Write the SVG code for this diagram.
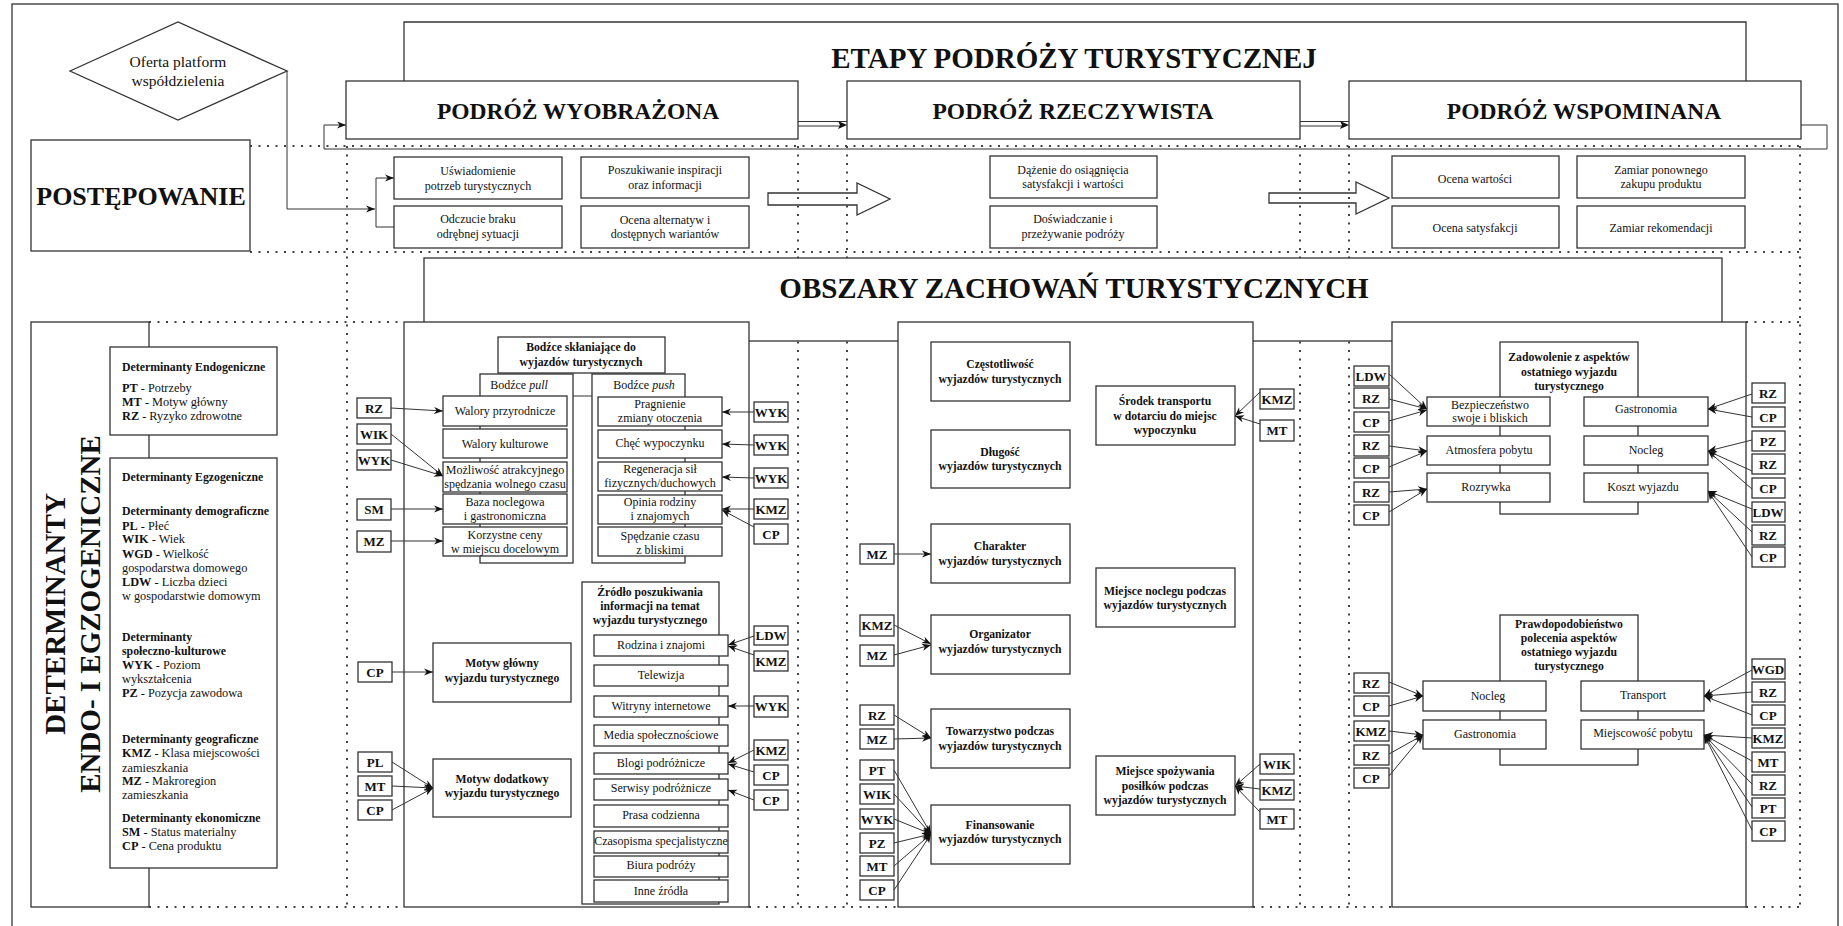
<svg xmlns="http://www.w3.org/2000/svg" width="1843" height="926" viewBox="0 0 1843 926">
<style>
.b{fill:#fff;stroke:#333;stroke-width:1.3}
.t{font-family:"Liberation Serif","Times New Roman",serif;font-size:12px;fill:#111;text-anchor:middle}
.tb{font-family:"Liberation Serif","Times New Roman",serif;font-size:11.7px;font-weight:bold;fill:#111;text-anchor:middle}
.c{font-family:"Liberation Serif","Times New Roman",serif;font-size:13px;font-weight:bold;fill:#111;text-anchor:middle}
.d{font-family:"Liberation Serif","Times New Roman",serif;font-size:12.3px;fill:#111}
.dh{font-weight:bold;font-size:11.8px}
.h{font-family:"Liberation Serif","Times New Roman",serif;font-weight:bold;fill:#111;text-anchor:middle}
.dot{stroke:#444;stroke-width:2;stroke-dasharray:2 6.5;fill:none}
.ln{stroke:#333;stroke-width:1;fill:none}
.ar{stroke:#333;stroke-width:1;fill:none;marker-end:url(#ah)}
</style>
<defs>
<marker id="ah" viewBox="0 0 10 10" refX="10" refY="5" markerWidth="9" markerHeight="9" markerUnits="userSpaceOnUse" orient="auto"><path d="M0,1 L10,5 L0,9 L3,5 Z" fill="#111"/></marker>
</defs>
<rect x="0" y="0" width="1843" height="926" fill="#fff"/>
<rect x="12" y="4" width="1826" height="940" fill="none" stroke="#333" stroke-width="1.3"/>

<!-- hollow arrows -->
<g id="hollow-arrows">
<path d="M768,193 H857 V183 L890,199 L857,215 V205 H768 Z" class="b"/>
<path d="M1269,193 H1356 V182 L1389,198 L1356,214 V203 H1269 Z" class="b"/>
</g>

<!-- dotted guide lines -->
<g id="guides">
<path class="dot" d="M250,146 H1800 M250,252 H1800 M1800,146 V907 M347,146 V907 M798,146 V907 M847,146 V907 M1300,146 V907 M1349,146 V907 M149,322 H404 M149,907 H404 M749,907 H898 M1253,907 H1392 M1746,907 H1800 M1746,322 H1800"/>
</g>

<!-- ETAPY header -->
<g id="etapy">
<path d="M404,81 V22 H1746 V81" class="b"/>
<text x="1074" y="68" class="h" font-size="29">ETAPY PODRÓŻY TURYSTYCZNEJ</text>
</g>
<g id="podroz-wyobrazona"><rect x="346" y="81" width="452" height="58" class="b"/><text x="578" y="119" class="h" font-size="23.5">PODRÓŻ WYOBRAŻONA</text></g>
<g id="podroz-rzeczywista"><rect x="847" y="81" width="453" height="58" class="b"/><text x="1073" y="119" class="h" font-size="23.5">PODRÓŻ RZECZYWISTA</text></g>
<g id="podroz-wspominana"><rect x="1349" y="81" width="452" height="58" class="b"/><text x="1584" y="119" class="h" font-size="23.5">PODRÓŻ WSPOMINANA</text></g>

<g id="postepowanie"><rect x="31" y="140" width="219" height="111" class="b"/><text x="141" y="205" class="h" font-size="26">POSTĘPOWANIE</text></g>

<g id="oferta"><polygon points="70,71 178,22 287,71 178,120" class="b"/>
<text x="178" y="67" class="t" style="font-size:15.5px">Oferta platform</text><text x="178" y="86" class="t" style="font-size:15.5px">współdzielenia</text></g>

<!-- stage boxes -->
<g id="uswiadomienie"><rect x="394" y="157" width="168" height="42" class="b"/><text x="478" y="175" class="t">Uświadomienie</text><text x="478" y="190" class="t">potrzeb turystycznych</text></g>
<g id="odczucie"><rect x="394" y="206" width="168" height="42" class="b"/><text x="478" y="223" class="t">Odczucie braku</text><text x="478" y="238" class="t">odrębnej sytuacji</text></g>
<g id="poszukiwanie"><rect x="581" y="157" width="168" height="41" class="b"/><text x="665" y="174" class="t">Poszukiwanie inspiracji</text><text x="665" y="189" class="t">oraz informacji</text></g>
<g id="ocena-alt"><rect x="581" y="206" width="168" height="42" class="b"/><text x="665" y="224" class="t">Ocena alternatyw i</text><text x="665" y="238" class="t">dostępnych wariantów</text></g>
<g id="dazenie"><rect x="990" y="156" width="167" height="42" class="b"/><text x="1073" y="174" class="t">Dążenie do osiągnięcia</text><text x="1073" y="188" class="t">satysfakcji i wartości</text></g>
<g id="doswiadczanie"><rect x="990" y="206" width="167" height="42" class="b"/><text x="1073" y="223" class="t">Doświadczanie i</text><text x="1073" y="238" class="t">przeżywanie podróży</text></g>
<g id="ocena-wartosci"><rect x="1392" y="156" width="167" height="42" class="b"/><text x="1475" y="183" class="t">Ocena wartości</text></g>
<g id="ocena-satysfakcji"><rect x="1392" y="206" width="167" height="42" class="b"/><text x="1475" y="232" class="t">Ocena satysfakcji</text></g>
<g id="zamiar-ponownego"><rect x="1577" y="156" width="168" height="42" class="b"/><text x="1661" y="174" class="t">Zamiar ponownego</text><text x="1661" y="188" class="t">zakupu produktu</text></g>
<g id="zamiar-rekomendacji"><rect x="1577" y="206" width="168" height="42" class="b"/><text x="1661" y="232" class="t">Zamiar rekomendacji</text></g>

<!-- OBSZARY -->
<g id="obszary"><rect x="424" y="258" width="1298" height="83" class="b"/><text x="1074" y="298" class="h" font-size="29">OBSZARY ZACHOWAŃ TURYSTYCZNYCH</text></g>

<!-- DETERMINANTY -->
<g id="determinanty"><rect x="31" y="322" width="118" height="585" class="b"/>
<text transform="translate(65,614) rotate(-90)" class="h" font-size="29">DETERMINANTY</text>
<text transform="translate(100,614) rotate(-90)" class="h" font-size="29">ENDO- I EGZOGENICZNE</text></g>
<g id="endo"><rect x="110" y="347" width="167" height="88" class="b"/>
<text x="122" y="371" class="d dh">Determinanty Endogeniczne</text>
<text x="122" y="392" class="d"><tspan font-weight="bold">PT</tspan> - Potrzeby</text>
<text x="122" y="406" class="d"><tspan font-weight="bold">MT</tspan> - Motyw główny</text>
<text x="122" y="420" class="d"><tspan font-weight="bold">RZ</tspan> - Ryzyko zdrowotne</text></g>
<g id="egzo"><rect x="110" y="458" width="167" height="410" class="b"/>
<text x="122" y="481" class="d dh">Determinanty Egzogeniczne</text>
<text x="122" y="515" class="d dh">Determinanty demograficzne</text>
<text x="122" y="530" class="d"><tspan font-weight="bold">PL</tspan> - Płeć</text>
<text x="122" y="543" class="d"><tspan font-weight="bold">WIK</tspan> - Wiek</text>
<text x="122" y="558" class="d"><tspan font-weight="bold">WGD</tspan> - Wielkość</text>
<text x="122" y="572" class="d">gospodarstwa domowego</text>
<text x="122" y="586" class="d"><tspan font-weight="bold">LDW</tspan> - Liczba dzieci</text>
<text x="122" y="600" class="d">w gospodarstwie domowym</text>
<text x="122" y="641" class="d dh">Determinanty</text>
<text x="122" y="655" class="d dh">społeczno-kulturowe</text>
<text x="122" y="669" class="d"><tspan font-weight="bold">WYK</tspan> - Poziom</text>
<text x="122" y="683" class="d">wykształcenia</text>
<text x="122" y="697" class="d"><tspan font-weight="bold">PZ</tspan> - Pozycja zawodowa</text>
<text x="122" y="743" class="d dh">Determinanty geograficzne</text>
<text x="122" y="757" class="d"><tspan font-weight="bold">KMZ</tspan> - Klasa miejscowości</text>
<text x="122" y="772" class="d">zamieszkania</text>
<text x="122" y="785" class="d"><tspan font-weight="bold">MZ</tspan> - Makroregion</text>
<text x="122" y="799" class="d">zamieszkania</text>
<text x="122" y="822" class="d dh">Determinanty ekonomiczne</text>
<text x="122" y="836" class="d"><tspan font-weight="bold">SM</tspan> - Status materialny</text>
<text x="122" y="850" class="d"><tspan font-weight="bold">CP</tspan> - Cena produktu</text></g>

<!-- REGION 1 -->
<g id="region1"><rect x="404" y="322" width="345" height="585" class="b"/></g>
<g id="bodzce"><rect x="498" y="337" width="167" height="36" class="b"/><text x="581" y="351" class="tb">Bodźce skłaniające do</text><text x="581" y="366" class="tb">wyjazdów turystycznych</text></g>
<path class="ln" d="M573,396 H592"/>
<g id="pull"><rect x="480" y="374" width="93" height="189" class="b"/><text x="519" y="389" class="t">Bodźce <tspan font-style="italic">pull</tspan></text></g>
<g id="push"><rect x="592" y="374" width="93" height="189" class="b"/><text x="644" y="389" class="t">Bodźce <tspan font-style="italic">push</tspan></text></g>
<g id="walory-przyr"><rect x="443" y="396" width="124" height="30" class="b"/><text x="505" y="415" class="t">Walory przyrodnicze</text></g>
<g id="walory-kult"><rect x="443" y="429" width="124" height="29" class="b"/><text x="505" y="448" class="t">Walory kulturowe</text></g>
<g id="mozliwosc"><rect x="443" y="462" width="124" height="30" class="b"/><text x="505" y="474" class="t">Możliwość atrakcyjnego</text><text x="505" y="488" class="t">spędzania wolnego czasu</text></g>
<g id="baza"><rect x="443" y="494" width="124" height="30" class="b"/><text x="505" y="506" class="t">Baza noclegowa</text><text x="505" y="520" class="t">i gastronomiczna</text></g>
<g id="korzystne"><rect x="443" y="527" width="124" height="29" class="b"/><text x="505" y="539" class="t">Korzystne ceny</text><text x="505" y="553" class="t">w miejscu docelowym</text></g>
<g id="pragnienie"><rect x="598" y="397" width="124" height="29" class="b"/><text x="660" y="408" class="t">Pragnienie</text><text x="660" y="422" class="t">zmiany otoczenia</text></g>
<g id="chec"><rect x="598" y="430" width="124" height="28" class="b"/><text x="660" y="447" class="t">Chęć wypoczynku</text></g>
<g id="regeneracja"><rect x="598" y="462" width="124" height="29" class="b"/><text x="660" y="473" class="t">Regeneracja sił</text><text x="660" y="487" class="t">fizycznych/duchowych</text></g>
<g id="opinia"><rect x="598" y="495" width="124" height="29" class="b"/><text x="660" y="506" class="t">Opinia rodziny</text><text x="660" y="520" class="t">i znajomych</text></g>
<g id="spedzanie"><rect x="598" y="527" width="124" height="29" class="b"/><text x="660" y="540" class="t">Spędzanie czasu</text><text x="660" y="554" class="t">z bliskimi</text></g>

<g id="zrodlo"><rect x="582" y="582" width="137" height="322" class="b"/><text x="650" y="596" class="tb">Źródło poszukiwania</text><text x="650" y="610" class="tb">informacji na temat</text><text x="650" y="624" class="tb">wyjazdu turystycznego</text></g>
<g id="rodzina"><rect x="594" y="635" width="134" height="21" class="b"/><text x="661" y="649" class="t">Rodzina i znajomi</text></g>
<g id="telewizja"><rect x="594" y="665" width="134" height="21" class="b"/><text x="661" y="679" class="t">Telewizja</text></g>
<g id="witryny"><rect x="594" y="696" width="134" height="21" class="b"/><text x="661" y="710" class="t">Witryny internetowe</text></g>
<g id="media"><rect x="594" y="725" width="134" height="21" class="b"/><text x="661" y="739" class="t">Media społecznościowe</text></g>
<g id="blogi"><rect x="594" y="753" width="134" height="21" class="b"/><text x="661" y="767" class="t">Blogi podróżnicze</text></g>
<g id="serwisy"><rect x="594" y="779" width="134" height="21" class="b"/><text x="661" y="792" class="t">Serwisy podróżnicze</text></g>
<g id="prasa"><rect x="594" y="805" width="134" height="22" class="b"/><text x="661" y="819" class="t">Prasa codzienna</text></g>
<g id="czasopisma"><rect x="594" y="831" width="134" height="22" class="b"/><text x="661" y="845" class="t">Czasopisma specjalistyczne</text></g>
<g id="biura"><rect x="594" y="856" width="134" height="21" class="b"/><text x="661" y="869" class="t">Biura podróży</text></g>
<g id="inne"><rect x="594" y="880" width="134" height="22" class="b"/><text x="661" y="895" class="t">Inne źródła</text></g>

<g id="motyw-glowny"><rect x="433" y="643" width="138" height="59" class="b"/><text x="502" y="667" class="tb">Motyw główny</text><text x="502" y="682" class="tb">wyjazdu turystycznego</text></g>
<g id="motyw-dodatkowy"><rect x="433" y="759" width="138" height="58" class="b"/><text x="502" y="783" class="tb">Motyw dodatkowy</text><text x="502" y="797" class="tb">wyjazdu turystycznego</text></g>

<!-- REGION 2 -->
<g id="region2"><rect x="898" y="322" width="355" height="585" class="b"/></g>
<g id="czestotliwosc"><rect x="931" y="342" width="139" height="59" class="b"/><text x="1000" y="368" class="tb">Częstotliwość</text><text x="1000" y="383" class="tb">wyjazdów turystycznych</text></g>
<g id="dlugosc"><rect x="931" y="430" width="139" height="58" class="b"/><text x="1000" y="456" class="tb">Długość</text><text x="1000" y="470" class="tb">wyjazdów turystycznych</text></g>
<g id="charakter"><rect x="931" y="524" width="139" height="59" class="b"/><text x="1000" y="550" class="tb">Charakter</text><text x="1000" y="565" class="tb">wyjazdów turystycznych</text></g>
<g id="organizator"><rect x="931" y="615" width="139" height="59" class="b"/><text x="1000" y="638" class="tb">Organizator</text><text x="1000" y="653" class="tb">wyjazdów turystycznych</text></g>
<g id="towarzystwo"><rect x="931" y="709" width="139" height="59" class="b"/><text x="1000" y="735" class="tb">Towarzystwo podczas</text><text x="1000" y="750" class="tb">wyjazdów turystycznych</text></g>
<g id="finansowanie"><rect x="931" y="805" width="139" height="59" class="b"/><text x="1000" y="829" class="tb">Finansowanie</text><text x="1000" y="843" class="tb">wyjazdów turystycznych</text></g>
<g id="srodek"><rect x="1096" y="386" width="139" height="59" class="b"/><text x="1165" y="405" class="tb">Środek transportu</text><text x="1165" y="420" class="tb">w dotarciu do miejsc</text><text x="1165" y="434" class="tb">wypoczynku</text></g>
<g id="nocleg-miejsce"><rect x="1096" y="568" width="139" height="59" class="b"/><text x="1165" y="595" class="tb">Miejsce noclegu podczas</text><text x="1165" y="609" class="tb">wyjazdów turystycznych</text></g>
<g id="posilki"><rect x="1096" y="756" width="139" height="59" class="b"/><text x="1165" y="775" class="tb">Miejsce spożywania</text><text x="1165" y="790" class="tb">posiłków podczas</text><text x="1165" y="804" class="tb">wyjazdów turystycznych</text></g>

<!-- REGION 3 -->
<g id="region3"><rect x="1392" y="322" width="354" height="585" class="b"/></g>
<g id="zadowolenie"><rect x="1500" y="342" width="138" height="172" class="b"/><text x="1569" y="361" class="tb">Zadowolenie z aspektów</text><text x="1569" y="376" class="tb">ostatniego wyjazdu</text><text x="1569" y="390" class="tb">turystycznego</text></g>
<g id="bezpieczenstwo"><rect x="1427" y="397" width="123" height="29" class="b"/><text x="1490" y="409" class="t">Bezpieczeństwo</text><text x="1490" y="422" class="t">swoje i bliskich</text></g>
<g id="atmosfera"><rect x="1427" y="436" width="123" height="29" class="b"/><text x="1489" y="454" class="t">Atmosfera pobytu</text></g>
<g id="rozrywka"><rect x="1427" y="473" width="123" height="29" class="b"/><text x="1486" y="491" class="t">Rozrywka</text></g>
<g id="gastronomia1"><rect x="1584" y="397" width="124" height="29" class="b"/><text x="1646" y="413" class="t">Gastronomia</text></g>
<g id="nocleg1"><rect x="1584" y="436" width="124" height="29" class="b"/><text x="1646" y="454" class="t">Nocleg</text></g>
<g id="koszt"><rect x="1584" y="473" width="124" height="29" class="b"/><text x="1643" y="491" class="t">Koszt wyjazdu</text></g>

<g id="prawdopodobienstwo"><rect x="1500" y="615" width="138" height="150" class="b"/><text x="1569" y="628" class="tb">Prawdopodobieństwo</text><text x="1569" y="642" class="tb">polecenia aspektów</text><text x="1569" y="656" class="tb">ostatniego wyjazdu</text><text x="1569" y="670" class="tb">turystycznego</text></g>
<g id="nocleg2"><rect x="1423" y="681" width="123" height="30" class="b"/><text x="1488" y="700" class="t">Nocleg</text></g>
<g id="gastronomia2"><rect x="1423" y="720" width="123" height="29" class="b"/><text x="1485" y="738" class="t">Gastronomia</text></g>
<g id="transport"><rect x="1581" y="681" width="123" height="30" class="b"/><text x="1643" y="699" class="t">Transport</text></g>
<g id="miejscowosc"><rect x="1581" y="720" width="123" height="29" class="b"/><text x="1643" y="737" class="t">Miejscowość pobytu</text></g>

<!-- code boxes -->
<g id="codes-r1-left">
<g id="c-rz1"><rect x="357" y="398" width="34" height="20" class="b"/><text x="374" y="413" class="c">RZ</text></g>
<g id="c-wik1"><rect x="357" y="424" width="34" height="20" class="b"/><text x="374" y="439" class="c">WIK</text></g>
<g id="c-wyk1"><rect x="357" y="450" width="34" height="20" class="b"/><text x="374" y="465" class="c">WYK</text></g>
<g id="c-sm1"><rect x="357" y="499" width="34" height="21" class="b"/><text x="374" y="514" class="c">SM</text></g>
<g id="c-mz1"><rect x="357" y="531" width="34" height="21" class="b"/><text x="374" y="546" class="c">MZ</text></g>
<g id="c-cp1"><rect x="358" y="662" width="34" height="20" class="b"/><text x="375" y="677" class="c">CP</text></g>
<g id="c-pl1"><rect x="358" y="752" width="34" height="20" class="b"/><text x="375" y="767" class="c">PL</text></g>
<g id="c-mt1"><rect x="358" y="776" width="34" height="20" class="b"/><text x="375" y="791" class="c">MT</text></g>
<g id="c-cp2"><rect x="358" y="800" width="34" height="20" class="b"/><text x="375" y="815" class="c">CP</text></g>
</g>
<g id="codes-r1-right">
<g id="c-wyk2"><rect x="754" y="402" width="34" height="20" class="b"/><text x="771" y="417" class="c">WYK</text></g>
<g id="c-wyk3"><rect x="754" y="435" width="34" height="20" class="b"/><text x="771" y="450" class="c">WYK</text></g>
<g id="c-wyk4"><rect x="754" y="468" width="34" height="20" class="b"/><text x="771" y="483" class="c">WYK</text></g>
<g id="c-kmz1"><rect x="754" y="499" width="34" height="20" class="b"/><text x="771" y="514" class="c">KMZ</text></g>
<g id="c-cp3"><rect x="754" y="524" width="34" height="20" class="b"/><text x="771" y="539" class="c">CP</text></g>
<g id="c-ldw1"><rect x="754" y="626" width="34" height="19" class="b"/><text x="771" y="640" class="c">LDW</text></g>
<g id="c-kmz2"><rect x="754" y="651" width="34" height="20" class="b"/><text x="771" y="666" class="c">KMZ</text></g>
<g id="c-wyk5"><rect x="754" y="696" width="34" height="21" class="b"/><text x="771" y="711" class="c">WYK</text></g>
<g id="c-kmz3"><rect x="754" y="740" width="34" height="20" class="b"/><text x="771" y="755" class="c">KMZ</text></g>
<g id="c-cp4"><rect x="754" y="765" width="34" height="20" class="b"/><text x="771" y="780" class="c">CP</text></g>
<g id="c-cp5"><rect x="754" y="790" width="34" height="20" class="b"/><text x="771" y="805" class="c">CP</text></g>
</g>
<g id="codes-r2-left">
<g id="c-mz2"><rect x="860" y="544" width="34" height="20" class="b"/><text x="877" y="559" class="c">MZ</text></g>
<g id="c-kmz4"><rect x="860" y="615" width="34" height="21" class="b"/><text x="877" y="630" class="c">KMZ</text></g>
<g id="c-mz3"><rect x="860" y="645" width="34" height="21" class="b"/><text x="877" y="660" class="c">MZ</text></g>
<g id="c-rz2"><rect x="860" y="705" width="34" height="20" class="b"/><text x="877" y="720" class="c">RZ</text></g>
<g id="c-mz4"><rect x="860" y="729" width="34" height="20" class="b"/><text x="877" y="744" class="c">MZ</text></g>
<g id="c-pt1"><rect x="860" y="760" width="34" height="20" class="b"/><text x="877" y="775" class="c">PT</text></g>
<g id="c-wik2"><rect x="860" y="784" width="34" height="20" class="b"/><text x="877" y="799" class="c">WIK</text></g>
<g id="c-wyk6"><rect x="860" y="809" width="34" height="20" class="b"/><text x="877" y="824" class="c">WYK</text></g>
<g id="c-pz1"><rect x="860" y="833" width="34" height="20" class="b"/><text x="877" y="848" class="c">PZ</text></g>
<g id="c-mt2"><rect x="860" y="856" width="34" height="20" class="b"/><text x="877" y="871" class="c">MT</text></g>
<g id="c-cp6"><rect x="860" y="880" width="34" height="20" class="b"/><text x="877" y="895" class="c">CP</text></g>
</g>
<g id="codes-r2-right">
<g id="c-kmz5"><rect x="1260" y="389" width="34" height="20" class="b"/><text x="1277" y="404" class="c">KMZ</text></g>
<g id="c-mt3"><rect x="1260" y="420" width="34" height="21" class="b"/><text x="1277" y="435" class="c">MT</text></g>
<g id="c-wik3"><rect x="1260" y="754" width="34" height="20" class="b"/><text x="1277" y="769" class="c">WIK</text></g>
<g id="c-kmz6"><rect x="1260" y="780" width="34" height="20" class="b"/><text x="1277" y="795" class="c">KMZ</text></g>
<g id="c-mt4"><rect x="1260" y="809" width="34" height="20" class="b"/><text x="1277" y="824" class="c">MT</text></g>
</g>
<g id="codes-r3-left">
<g id="c-ldw2"><rect x="1354" y="366" width="35" height="20" class="b"/><text x="1371" y="381" class="c">LDW</text></g>
<g id="c-rz3"><rect x="1354" y="388" width="35" height="20" class="b"/><text x="1371" y="403" class="c">RZ</text></g>
<g id="c-cp7"><rect x="1354" y="412" width="35" height="20" class="b"/><text x="1371" y="427" class="c">CP</text></g>
<g id="c-rz4"><rect x="1354" y="435" width="35" height="21" class="b"/><text x="1371" y="450" class="c">RZ</text></g>
<g id="c-cp8"><rect x="1354" y="458" width="35" height="20" class="b"/><text x="1371" y="473" class="c">CP</text></g>
<g id="c-rz5"><rect x="1354" y="482" width="35" height="20" class="b"/><text x="1371" y="497" class="c">RZ</text></g>
<g id="c-cp9"><rect x="1354" y="505" width="35" height="20" class="b"/><text x="1371" y="520" class="c">CP</text></g>
<g id="c-rz6"><rect x="1354" y="673" width="35" height="20" class="b"/><text x="1371" y="688" class="c">RZ</text></g>
<g id="c-cp10"><rect x="1354" y="696" width="35" height="20" class="b"/><text x="1371" y="711" class="c">CP</text></g>
<g id="c-kmz7"><rect x="1354" y="721" width="35" height="20" class="b"/><text x="1371" y="736" class="c">KMZ</text></g>
<g id="c-rz7"><rect x="1354" y="745" width="35" height="20" class="b"/><text x="1371" y="760" class="c">RZ</text></g>
<g id="c-cp11"><rect x="1354" y="768" width="35" height="20" class="b"/><text x="1371" y="783" class="c">CP</text></g>
</g>
<g id="codes-r3-right">
<g id="c-rz8"><rect x="1752" y="383" width="33" height="20" class="b"/><text x="1768" y="398" class="c">RZ</text></g>
<g id="c-cp12"><rect x="1752" y="407" width="33" height="20" class="b"/><text x="1768" y="422" class="c">CP</text></g>
<g id="c-pz2"><rect x="1752" y="431" width="33" height="20" class="b"/><text x="1768" y="446" class="c">PZ</text></g>
<g id="c-rz9"><rect x="1752" y="454" width="33" height="20" class="b"/><text x="1768" y="469" class="c">RZ</text></g>
<g id="c-cp13"><rect x="1752" y="478" width="33" height="20" class="b"/><text x="1768" y="493" class="c">CP</text></g>
<g id="c-ldw3"><rect x="1752" y="502" width="33" height="20" class="b"/><text x="1768" y="517" class="c">LDW</text></g>
<g id="c-rz10"><rect x="1752" y="525" width="33" height="20" class="b"/><text x="1768" y="540" class="c">RZ</text></g>
<g id="c-cp14"><rect x="1752" y="547" width="33" height="20" class="b"/><text x="1768" y="562" class="c">CP</text></g>
<g id="c-wgd"><rect x="1752" y="659" width="33" height="20" class="b"/><text x="1768" y="674" class="c">WGD</text></g>
<g id="c-rz11"><rect x="1752" y="682" width="33" height="20" class="b"/><text x="1768" y="697" class="c">RZ</text></g>
<g id="c-cp15"><rect x="1752" y="705" width="33" height="20" class="b"/><text x="1768" y="720" class="c">CP</text></g>
<g id="c-kmz8"><rect x="1752" y="728" width="33" height="20" class="b"/><text x="1768" y="743" class="c">KMZ</text></g>
<g id="c-mt5"><rect x="1752" y="752" width="33" height="20" class="b"/><text x="1768" y="767" class="c">MT</text></g>
<g id="c-rz12"><rect x="1752" y="775" width="33" height="20" class="b"/><text x="1768" y="790" class="c">RZ</text></g>
<g id="c-pt2"><rect x="1752" y="798" width="33" height="20" class="b"/><text x="1768" y="813" class="c">PT</text></g>
<g id="c-cp16"><rect x="1752" y="821" width="33" height="20" class="b"/><text x="1768" y="836" class="c">CP</text></g>
</g>

<!-- connectors -->
<g id="connectors">
<path class="ln" d="M798,121.5 H847 M798,126 H840"/>
<polygon points="847,125 838,121 840,125 838,129" fill="#111"/>
<path class="ln" d="M1300,121.5 H1349 M1300,126 H1342"/>
<polygon points="1349,125 1340,121 1342,125 1340,129" fill="#111"/>
<path class="ar" d="M1801,125 H1827 V149 H324 V125 H346"/>
<path class="ar" d="M287,71 V209 H375"/>
<path class="ln" d="M376,178 V227 H394"/>
<path class="ar" d="M376,178 H394"/>

<path class="ar" d="M391,408 L443,411"/>
<path class="ar" d="M391,434 L443,476"/>
<path class="ar" d="M391,460 L443,476"/>
<path class="ar" d="M391,509 L443,509"/>
<path class="ar" d="M391,541 L443,541"/>
<path class="ar" d="M754,412 L722,412"/>
<path class="ar" d="M754,445 L722,444"/>
<path class="ar" d="M754,478 L722,477"/>
<path class="ar" d="M754,509 L722,509"/>
<path class="ar" d="M754,527 L722,510"/>
<path class="ar" d="M754,636 L728,645"/>
<path class="ar" d="M754,655 L728,646"/>
<path class="ar" d="M754,706 L728,706"/>
<path class="ar" d="M754,750 L728,763"/>
<path class="ar" d="M754,772 L728,764"/>
<path class="ar" d="M754,800 L728,790"/>
<path class="ar" d="M392,672 L433,672"/>
<path class="ar" d="M392,762 L433,788"/>
<path class="ar" d="M392,786 L433,788"/>
<path class="ar" d="M392,810 L433,788"/>

<path class="ar" d="M894,554 L931,554"/>
<path class="ar" d="M894,625 L931,644"/>
<path class="ar" d="M894,655 L931,645"/>
<path class="ar" d="M894,715 L931,738"/>
<path class="ar" d="M894,739 L931,738"/>
<path class="ar" d="M894,770 L931,834"/>
<path class="ar" d="M894,794 L931,834"/>
<path class="ar" d="M894,819 L931,834"/>
<path class="ar" d="M894,843 L931,834"/>
<path class="ar" d="M894,866 L931,834"/>
<path class="ar" d="M894,890 L931,834"/>
<path class="ar" d="M1260,392 L1235,416"/>
<path class="ar" d="M1260,424 L1235,416"/>
<path class="ar" d="M1260,764 L1235,786"/>
<path class="ar" d="M1260,789 L1235,786"/>
<path class="ar" d="M1260,812 L1235,786"/>

<path class="ar" d="M1389,374 L1427,409"/>
<path class="ar" d="M1389,399 L1427,409"/>
<path class="ar" d="M1389,421 L1427,410"/>
<path class="ar" d="M1389,446 L1427,451"/>
<path class="ar" d="M1389,467 L1427,451"/>
<path class="ar" d="M1389,492 L1427,489"/>
<path class="ar" d="M1389,512 L1427,489"/>
<path class="ar" d="M1752,394 L1708,409"/>
<path class="ar" d="M1752,417 L1708,409"/>
<path class="ar" d="M1752,440 L1708,451"/>
<path class="ar" d="M1752,471 L1708,451"/>
<path class="ar" d="M1752,489 L1708,451"/>
<path class="ar" d="M1752,509 L1708,491"/>
<path class="ar" d="M1752,532 L1708,491"/>
<path class="ar" d="M1752,557 L1708,491"/>

<path class="ar" d="M1389,682 L1423,696"/>
<path class="ar" d="M1389,706 L1423,696"/>
<path class="ar" d="M1389,731 L1423,735"/>
<path class="ar" d="M1389,754 L1423,735"/>
<path class="ar" d="M1389,776 L1423,735"/>
<path class="ar" d="M1752,670 L1704,696"/>
<path class="ar" d="M1752,692 L1704,696"/>
<path class="ar" d="M1752,715 L1704,696"/>
<path class="ar" d="M1752,738 L1704,735"/>
<path class="ar" d="M1752,761 L1704,735"/>
<path class="ar" d="M1752,784 L1704,735"/>
<path class="ar" d="M1752,807 L1704,735"/>
<path class="ar" d="M1752,830 L1704,735"/>
</g>
</svg>
